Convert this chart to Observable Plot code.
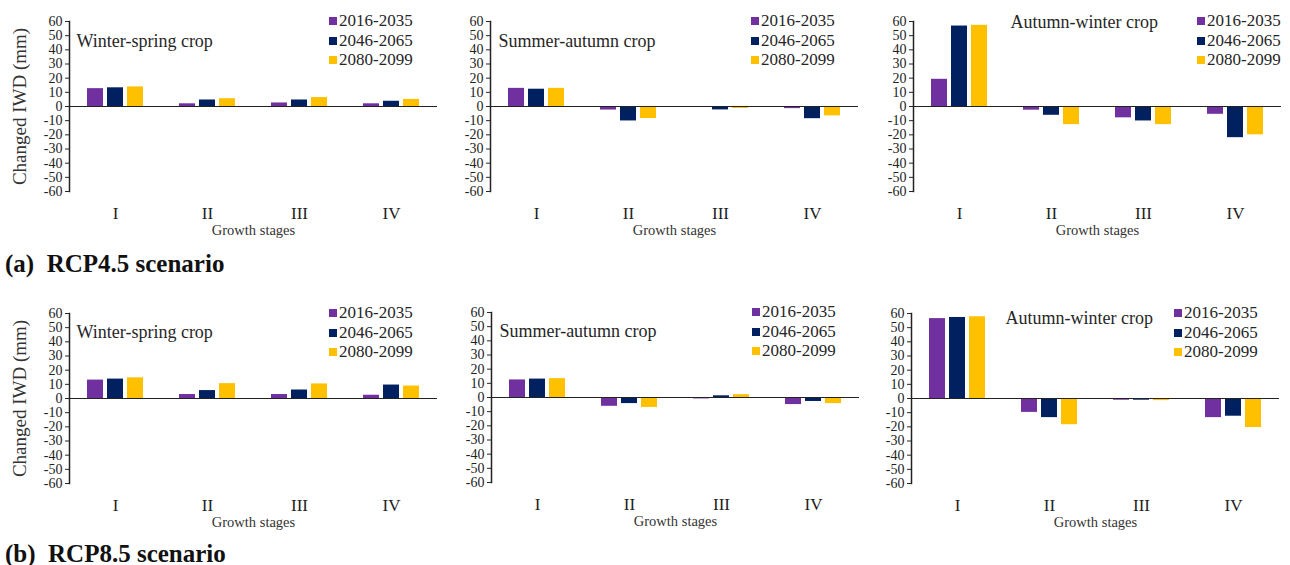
<!DOCTYPE html>
<html><head><meta charset="utf-8">
<script src="https://cdn.jsdelivr.net/npm/d3@7"></script>
<script src="https://cdn.jsdelivr.net/npm/@observablehq/plot@0.6"></script>
<style>
body{margin:0;background:#fff;}
#root{position:relative;width:1290px;height:565px;overflow:hidden;font-family:"Liberation Serif","Times New Roman",serif;color:#262626;}
.panel{position:absolute;}
.legend{position:absolute;font-size:17px;line-height:19.5px;white-space:nowrap;}
.legend .sw{display:inline-block;width:8px;height:8px;margin-right:2px;vertical-align:middle;position:relative;top:-1px;}
.scen{position:absolute;font-weight:bold;font-size:25px;line-height:25px;white-space:pre;color:#111;}
</style></head><body><div id="root"></div>
<script>
// ---- data ----
const stages = ["I", "II", "III", "IV"];
const periods = ["2016-2035", "2046-2065", "2080-2099"];
const colors = ["#7030A0", "#002060", "#FFC000"];
const crops = ["Winter-spring crop", "Summer-autumn crop", "Autumn-winter crop"];
const scenarios = ["(a)  RCP4.5 scenario", "(b)  RCP8.5 scenario"];
const yTicks = [-60, -50, -40, -30, -20, -10, 0, 10, 20, 30, 40, 50, 60];
const yTitle = "Changed IWD (mm)";
const xTitle = "Growth stages";

// RCP4.5, values per stage I..IV
const ws45_2016 = [12.6, 1.9, 2.5, 1.9];
const ws45_2046 = [13.2, 4.6, 4.6, 3.7];
const ws45_2080 = [13.8, 5.5, 6.3, 5.0];
const sa45_2016 = [12.8, -2.5, -0.3, -1.5];
const sa45_2046 = [12.2, -10.2, -2.4, -8.6];
const sa45_2080 = [12.8, -8.5, -1.4, -6.6];
const aw45_2016 = [19.2, -2.6, -8.0, -5.5];
const aw45_2046 = [56.8, -6.2, -10.2, -22.0];
const aw45_2080 = [57.3, -12.8, -12.8, -20.0];
// RCP8.5
const ws85_2016 = [13.0, 2.8, 2.8, 2.3];
const ws85_2046 = [13.7, 5.6, 6.0, 9.5];
const ws85_2080 = [14.6, 10.5, 10.3, 8.8];
const sa85_2016 = [12.4, -6.2, -1.0, -5.0];
const sa85_2046 = [13.0, -4.3, 1.2, -2.8];
const sa85_2080 = [13.3, -7.0, 2.0, -4.3];
const aw85_2016 = [56.4, -9.8, -1.2, -13.5];
const aw85_2046 = [57.2, -13.5, -1.2, -12.5];
const aw85_2080 = [57.7, -18.5, -1.5, -20.5];

const panelValues = [
  [ws45_2016, ws45_2046, ws45_2080],
  [sa45_2016, sa45_2046, sa45_2080],
  [aw45_2016, aw45_2046, aw45_2080],
  [ws85_2016, ws85_2046, ws85_2080],
  [sa85_2016, sa85_2046, sa85_2080],
  [aw85_2016, aw85_2046, aw85_2080]
];

// ---- layout ----
const layout = [
  {left: 68,  top: 21,  legendDx: 261, titleDx: 7,  titleDy: 20, ylab: true},
  {left: 489, top: 21,  legendDx: 262, titleDx: 8,  titleDy: 20, ylab: false},
  {left: 912, top: 21,  legendDx: 285, titleDx: 97, titleDy: 1,  ylab: false},
  {left: 68,  top: 313, legendDx: 261, titleDx: 7,  titleDy: 19, ylab: true},
  {left: 490, top: 312, legendDx: 262, titleDx: 8,  titleDy: 19, ylab: false},
  {left: 910, top: 313, legendDx: 264, titleDx: 94, titleDy: 5,  ylab: false}
];
const FW = 369, FH = 170, mL = 70, mR = 8, mT = 20, mB = 50;
const font = "Liberation Serif, Times New Roman, serif";
const root = document.getElementById("root");

layout.forEach((L, k) => {
  const vals = panelValues[k];
  const data = [];
  periods.forEach((p, i) => stages.forEach((s, j) => data.push({stage: s, period: p, value: vals[i][j]})));
  const crop = crops[k % 3];
  const marks = [
    Plot.barY(data, {fx: "stage", x: "period", y: "value", fill: "period"}),
    Plot.ruleY([0], {stroke: "#222", strokeWidth: 1.2}),
    Plot.axisY({ticks: yTicks, tickFormat: d => String(d), tickSize: 4, tickPadding: 3, label: null, fill: "#222"}),
    Plot.axisFx({anchor: "bottom", tickSize: 0, tickPadding: 15, fontSize: 17, label: null, fill: "#222"}),
    Plot.frame({anchor: "left", facetAnchor: "left", stroke: "#222", strokeWidth: 1.5}),
    Plot.text([{stage: "I", t: crop}], {fx: "stage", text: "t", frameAnchor: "top-left", textAnchor: "start", lineAnchor: "middle", dx: L.titleDx, dy: L.titleDy, fontSize: 18, fill: "#262626"}),
    Plot.text([{stage: "II", t: xTitle}], {fx: "stage", text: "t", frameAnchor: "bottom-right", textAnchor: "middle", lineAnchor: "middle", dy: 39, fontSize: 14.5, fill: "#333"})
  ];
  if (L.ylab) {
    marks.push(Plot.text([{stage: "I", t: yTitle}], {fx: "stage", text: "t", frameAnchor: "left", textAnchor: "middle", lineAnchor: "middle", rotate: -90, dx: -50, fontSize: 19, fill: "#333"}));
  }
  const chart = Plot.plot({
    width: FW + mL + mR, height: FH + mT + mB,
    marginLeft: mL, marginRight: mR, marginTop: mT, marginBottom: mB,
    style: {background: "transparent", fontFamily: font, fontSize: "14px", overflow: "visible", maxWidth: "none"},
    fx: {domain: stages, padding: 0},
    x: {domain: periods, paddingInner: 0.21, paddingOuter: 0.87, axis: null},
    y: {domain: [-60, 60]},
    color: {domain: periods, range: colors},
    marks
  });
  const div = document.createElement("div");
  div.className = "panel";
  div.style.left = (L.left - mL) + "px";
  div.style.top = (L.top - mT) + "px";
  div.appendChild(chart);
  root.appendChild(div);

  const lg = document.createElement("div");
  lg.className = "legend";
  lg.style.left = (L.left + L.legendDx) + "px";
  lg.style.top = (L.top - 9.75) + "px";
  periods.forEach((p, i) => {
    const row = document.createElement("div");
    const sw = document.createElement("span");
    sw.className = "sw";
    sw.style.background = colors[i];
    row.appendChild(sw);
    row.appendChild(document.createTextNode(p));
    lg.appendChild(row);
  });
  root.appendChild(lg);
});

[263, 553].forEach((cy, i) => {
  const s = document.createElement("div");
  s.className = "scen";
  s.style.left = "5px";
  s.style.top = (cy - 12.5) + "px";
  s.textContent = scenarios[i];
  root.appendChild(s);
});
</script>
</body></html>
